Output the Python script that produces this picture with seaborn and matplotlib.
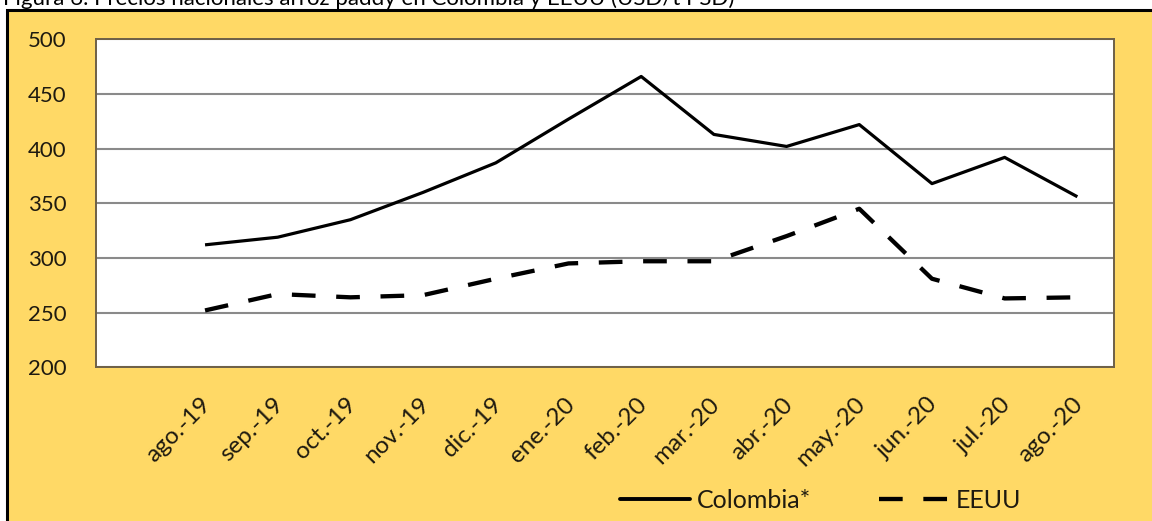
import matplotlib
matplotlib.use("Agg")
import matplotlib.pyplot as plt
import matplotlib.transforms as mtrans
import seaborn as sns
import pandas as pd
from matplotlib.patches import Rectangle
from matplotlib.lines import Line2D

# datos (USD/t)
meses = ["ago.-19", "sep.-19", "oct.-19", "nov.-19", "dic.-19", "ene.-20", "feb.-20",
         "mar.-20", "abr.-20", "may.-20", "jun.-20", "jul.-20", "ago.-20"]
colombia = [312, 319, 335, 360, 387, 427, 466, 413, 402, 422, 368, 392, 356]
eeuu = [252, 267, 264, 266, 281, 295, 297, 297, 320, 345, 281, 263, 264]

df = pd.DataFrame({
    "mes": meses * 2,
    "valor": colombia + eeuu,
    "serie": ["Colombia*"] * len(meses) + ["EEUU"] * len(meses),
})

sns.set_style("white")
plt.rcParams["font.family"] = ["Lato", "DejaVu Sans"]

AMARILLO = "#FFD966"
TXT = "#1e1a10"
GUION = (5.5, 4.8)

fig = plt.figure(figsize=(11.52, 5.21), dpi=100, facecolor="white")
W, H = 1152, 521

# marco amarillo con borde negro (recortado por la captura)
fig.patches.append(Rectangle((6.5 / W, -0.1), 1.2, (H - 10) / H + 0.1, transform=fig.transFigure,
                             facecolor=AMARILLO, edgecolor="black", linewidth=2.2, zorder=-5))
fig.text(3 / W, 1 - 5 / H, "Figura 6. Precios nacionales arroz paddy en Colombia y EEUU (USD/t PSD)",
         fontsize=16, color="black", va="baseline", ha="left")

ax = fig.add_axes([96 / W, (H - 367.3) / H, (1113.7 - 96) / W, (367.3 - 39.3) / H])
ax.set_facecolor("white")

sns.lineplot(data=df, x="mes", y="valor", hue="serie", style="serie",
             palette={"Colombia*": "black", "EEUU": "black"},
             dashes={"Colombia*": "", "EEUU": GUION},
             sort=False, legend=False, ax=ax)
lines = ax.get_lines()
lines[0].set_linewidth(2.3)
lines[1].set_linewidth(3.1)
for ln in lines:
    ln.set_solid_capstyle("butt")
    ln.set_dash_capstyle("butt")

ax.set_ylim(200, 500)
ax.set_yticks(range(200, 501, 50))
ax.set_xlim(-1.5, len(meses) - 0.5)
ax.yaxis.grid(True, color="#8a8a8a", linewidth=1.5)
ax.set_axisbelow(True)
ax.set_xlabel("")
ax.set_ylabel("")
for s in ax.spines.values():
    s.set_color("#6e6048")
    s.set_linewidth(1.4)

ax.tick_params(axis="y", length=0, pad=21, labelsize=16, labelcolor=TXT)
ax.tick_params(axis="x", length=0, pad=19, labelsize=17.5, labelcolor=TXT)
desplaza = mtrans.ScaledTranslation(10 / 100, 0, fig.dpi_scale_trans)
for lab in ax.get_xticklabels():
    lab.set_rotation(45)
    lab.set_ha("right")
    lab.set_va("top")
    lab.set_transform(lab.get_transform() + desplaza)

handles = [Line2D([], [], color="black", linewidth=2.8),
           Line2D([], [], color="black", linewidth=3.1, dashes=GUION)]
leg = fig.legend(handles, ["Colombia*", "EEUU"], loc="center left", ncol=2,
                 bbox_to_anchor=(620 / W, (H - 500) / H), bbox_transform=fig.transFigure,
                 frameon=False, fontsize=18, handlelength=2.8, handletextpad=0.28,
                 columnspacing=2.7, borderpad=0, borderaxespad=0)
for t in leg.get_texts():
    t.set_color(TXT)

fig.savefig("out.png", dpi=100, facecolor=fig.get_facecolor())
